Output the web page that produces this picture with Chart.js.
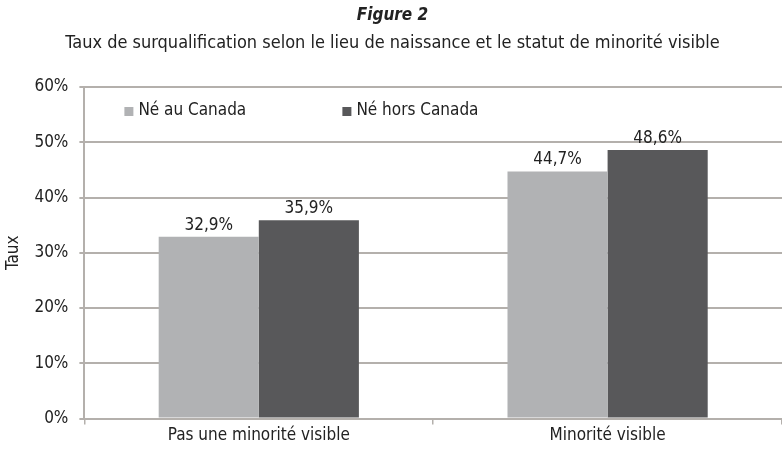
<!DOCTYPE html>
<html>
<head>
<meta charset="utf-8">
<script src="https://cdn.jsdelivr.net/npm/chart.js@4"></script>
<style>
  html, body { margin: 0; padding: 0; background: #fff; }
  #wrap { width: 782px; height: 452px; }
</style>
</head>
<body>
<div id="wrap"><canvas id="surqualChart"></canvas></div>
<script>
var categories = ['Pas une minorité visible', 'Minorité visible'];
var seriesNames = ['Né au Canada', 'Né hors Canada'];
var neAuCanada = [32.9, 44.7];
var neHorsCanada = [35.9, 48.6];
var yTicks = [0, 10, 20, 30, 40, 50, 60];

var FONT = '"Liberation Sans Narrow", "DejaVu Sans Condensed", "Open Sans", sans-serif';
var LIGHT = '#b1b2b4';
var DARK = '#58585a';
var GRID = '#b4b0ac';

function pct(v) {
    return v.toFixed(1).replace('.', ',') + '%';
}

// labels drawn above each bar
var valueLabels = {
    id: 'valueLabels',
    afterDatasetsDraw: function(chart) {
        var ctx = chart.ctx;
        ctx.save();
        ctx.font = '17px ' + FONT;
        ctx.fillStyle = '#222';
        ctx.textAlign = 'center';
        ctx.textBaseline = 'bottom';
        chart.data.datasets.forEach(function(ds, i) {
            chart.getDatasetMeta(i).data.forEach(function(bar, j) {
                ctx.fillText(pct(ds.data[j]), bar.x, bar.y - 3);
            });
        });
        ctx.restore();
    }
};

// legend inside the plot area, top left
var innerLegend = {
    id: 'innerLegend',
    afterDraw: function(chart) {
        var ctx = chart.ctx;
        var area = chart.chartArea;
        var x = area.left + 40;
        var y = area.top + 24;
        ctx.save();
        ctx.font = '17px ' + FONT;
        ctx.textBaseline = 'middle';
        chart.data.datasets.forEach(function(ds) {
            ctx.fillStyle = ds.backgroundColor;
            ctx.fillRect(x, y - 4, 9, 9);
            ctx.fillStyle = '#222';
            ctx.fillText(ds.label, x + 14, y);
            x += 218;
        });
        ctx.restore();
    }
};

var ctx = document.getElementById('surqualChart').getContext('2d');
var chart = new Chart(ctx, {
    type: 'bar',
    data: {
        labels: categories,
        datasets: [{
            label: seriesNames[0],
            data: neAuCanada,
            backgroundColor: LIGHT
        }, {
            label: seriesNames[1],
            data: neHorsCanada,
            backgroundColor: DARK
        }]
    },
    options: {
        responsive: true,
        maintainAspectRatio: false,
        animation: false,
        layout: { padding: { left: 3, right: 0, top: 0, bottom: 5 } },
        datasets: {
            bar: { categoryPercentage: 0.574, barPercentage: 1.0 }
        },
        plugins: {
            legend: { display: false },
            tooltip: { enabled: false },
            title: {
                display: true,
                text: 'Figure 2',
                color: '#222',
                font: { family: FONT, size: 17, style: 'italic', weight: 'bold' },
                padding: { top: 5, bottom: 7 }
            },
            subtitle: {
                display: true,
                text: 'Taux de surqualification selon le lieu de naissance et le statut de minorité visible',
                color: '#222',
                font: { family: FONT, size: 18 },
                padding: { top: 0, bottom: 33 }
            }
        },
        scales: {
            x: {
                grid: {
                    drawOnChartArea: false,
                    drawTicks: true,
                    tickLength: 6,
                    color: GRID,
                    lineWidth: 1.5
                },
                border: { color: GRID, width: 2 },
                ticks: {
                    color: '#222',
                    font: { family: FONT, size: 17 },
                    padding: 1
                }
            },
            y: {
                min: 0,
                max: 60,
                afterBuildTicks: function(axis) {
                    axis.ticks = yTicks.map(function(v) { return { value: v }; });
                },
                grid: {
                    color: GRID,
                    lineWidth: 2,
                    tickLength: 5
                },
                border: { color: GRID, width: 2 },
                ticks: {
                    color: '#222',
                    font: { family: FONT, size: 17 },
                    padding: 11,
                    callback: function(v) { return v + '%'; }
                },
                title: {
                    display: true,
                    text: 'Taux',
                    color: '#222',
                    font: { family: FONT, size: 17 },
                    padding: { top: 0, bottom: 0 }
                }
            }
        }
    },
    plugins: [valueLabels, innerLegend]
});
</script>
</body>
</html>
